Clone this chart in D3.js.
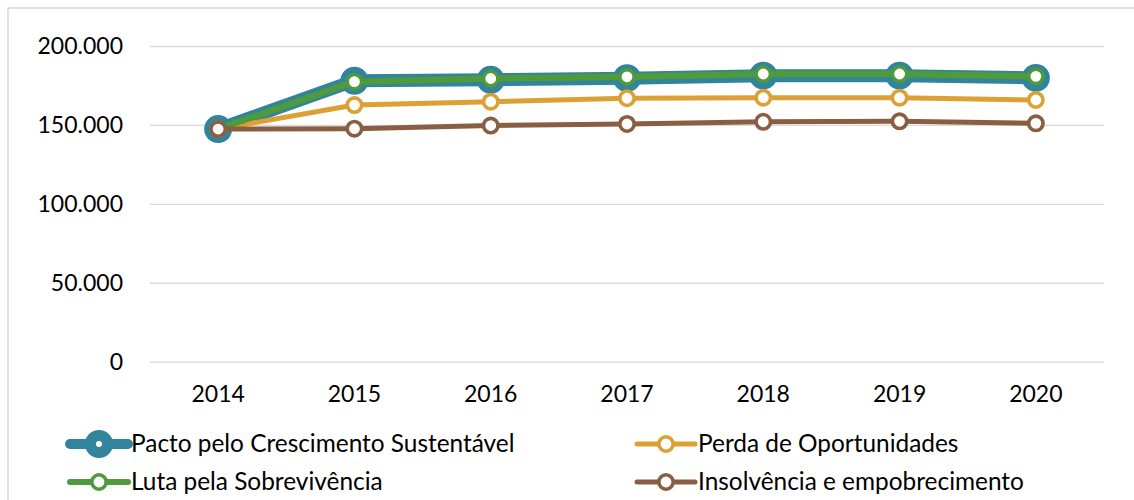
<!DOCTYPE html>
<html>
<head>
<meta charset="utf-8">
<script src="https://cdn.jsdelivr.net/npm/d3@7"></script>
<style>
  html, body { margin: 0; padding: 0; background: #ffffff; }
  svg { display: block; }
  text { font-family: Lato, "Open Sans", sans-serif; fill: #000; }
</style>
</head>
<body>
<svg id="chart" width="1134" height="500"></svg>
<script>
// Anos do cenário
const years = ["2014", "2015", "2016", "2017", "2018", "2019", "2020"];

// Valores por cenário
const pacto = [147400, 178000, 178600, 179600, 181200, 181200, 179800];
const perda = [147400, 162600, 164700, 166900, 167250, 167250, 165800];
const luta = [147400, 177400, 179400, 180500, 182250, 182250, 180800];
const insolvencia = [147400, 147600, 149600, 150600, 152000, 152300, 151000];

const yTicks = [0, 50000, 100000, 150000, 200000];

const seriesNames = [
  "Pacto pelo Crescimento Sustentável",
  "Perda de Oportunidades",
  "Luta pela Sobrevivência",
  "Insolvência e empobrecimento"
];

const series = [
  { name: seriesNames[0], values: pacto, color: "#31849b", lineW: 13, r: 8.5, markW: 11, legW: 10 },
  { name: seriesNames[1], values: perda, color: "#dca035", lineW: 5, r: 7.2, markW: 3.6, legW: 5 },
  { name: seriesNames[2], values: luta, color: "#4e9a3c", lineW: 6.5, r: 7.2, markW: 3.6, legW: 6 },
  { name: seriesNames[3], values: insolvencia, color: "#8a5e43", lineW: 5, r: 7.2, markW: 3.6, legW: 5 }
];

const svg = d3.select("#chart");

// Moldura da área do gráfico
svg.append("rect")
  .attr("x", 8).attr("y", 8)
  .attr("width", 1140).attr("height", 520)
  .attr("fill", "none")
  .attr("stroke", "#d9d9d9")
  .attr("stroke-width", 1.5);

const plot = { left: 150, right: 1104, top: 46, bottom: 361.7 };

const x = d3.scaleBand().domain(years).range([plot.left, plot.right]);
const y = d3.scaleLinear().domain([0, 200000]).range([plot.bottom, plot.top]);

const fmt = v => d3.format(",")(v).replace(/,/g, ".");

// Linhas de grade e rótulos do eixo Y
const yAxis = d3.axisLeft(y).tickValues(yTicks).tickFormat(fmt)
  .tickSize(-(plot.right - plot.left)).tickPadding(27);
const gy = svg.append("g").attr("transform", `translate(${plot.left},0)`).call(yAxis);
gy.select(".domain").remove();
gy.selectAll(".tick line").attr("stroke", "#d9d9d9").attr("stroke-width", 1.3);
gy.selectAll(".tick text")
  .attr("font-size", 23).attr("font-family", "Lato, sans-serif").attr("fill", "#000");

// Rótulos do eixo X
const xAxis = d3.axisBottom(x).tickSize(0).tickPadding(24);
const gx = svg.append("g").attr("transform", `translate(0,${plot.bottom})`).call(xAxis);
gx.select(".domain").remove();
gx.selectAll(".tick text")
  .attr("font-size", 23).attr("font-family", "Lato, sans-serif").attr("fill", "#000");

const cx = yr => x(yr) + x.bandwidth() / 2;

const line = d3.line()
  .x((d, i) => cx(years[i]))
  .y(d => y(d));

// Séries: linha e marcadores
series.forEach(s => {
  svg.append("path")
    .datum(s.values)
    .attr("d", line)
    .attr("fill", "none")
    .attr("stroke", s.color)
    .attr("stroke-width", s.lineW)
    .attr("stroke-linejoin", "round");
  svg.append("g").selectAll("circle")
    .data(s.values)
    .join("circle")
    .attr("cx", (d, i) => cx(years[i]))
    .attr("cy", d => y(d))
    .attr("r", s.r)
    .attr("fill", "#fff")
    .attr("stroke", s.color)
    .attr("stroke-width", s.markW);
});

// Legenda
const legendPos = [
  { x: 70, y: 444 },
  { x: 637, y: 444 },
  { x: 70, y: 482 },
  { x: 637, y: 482 }
];

series.forEach((s, i) => {
  const p = legendPos[i];
  const g = svg.append("g").attr("transform", `translate(${p.x},${p.y})`);
  g.append("line")
    .attr("x1", 0).attr("x2", 58)
    .attr("y1", 0).attr("y2", 0)
    .attr("stroke", s.color)
    .attr("stroke-width", s.legW)
    .attr("stroke-linecap", "round");
  g.append("circle")
    .attr("cx", 29).attr("cy", 0)
    .attr("r", s.r)
    .attr("fill", "#fff")
    .attr("stroke", s.color)
    .attr("stroke-width", s.markW);
  g.append("text")
    .attr("x", 61).attr("y", 8)
    .attr("font-size", 24.4)
    .text(s.name);
});
</script>
</body>
</html>
